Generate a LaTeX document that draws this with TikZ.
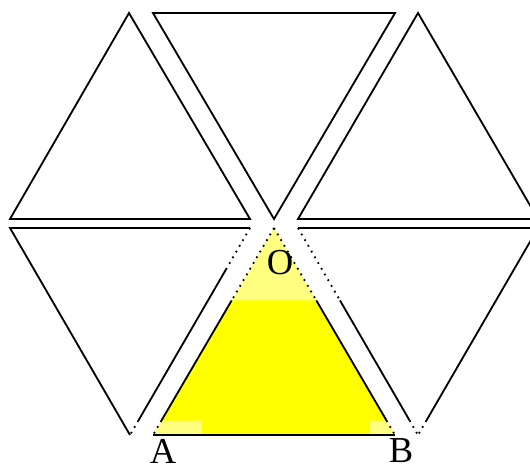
\documentclass[tikz,border=0pt]{standalone}
\usepackage{fontspec}
\setmainfont{Liberation Serif}
\usetikzlibrary{calc}
\definecolor{pureyellow}{RGB}{255,255,0}
\begin{document}
\begin{tikzpicture}[x=0.025cm, y=-0.025cm,
    tri/.style={draw=black, line width=1.3pt, line join=miter},
    solidseg/.style={draw=black, line width=1.3pt},
    faded/.style={draw=black, line width=1.3pt, dash pattern=on 1.2pt off 3.5pt},
    letter/.style={font=\fontsize{26}{29}\selectfont, inner sep=0pt}
]
    \useasboundingbox (0,0) rectangle (530,466);

    % upper row of the hexagon
    \draw[tri] (129,13) -- (250,219) -- (10,219) -- cycle;
    \draw[tri] (153,13) -- (395,13) -- (274,219) -- cycle;
    \draw[tri] (418,13) -- (538,219) -- (298,219) -- cycle;

    % lower row
    \coordinate (BL1) at (10,228);
    \coordinate (BL2) at (250,228);
    \coordinate (BL3) at (130,435);
    \coordinate (O) at (274,228);
    \coordinate (A) at (153,435);
    \coordinate (B) at (395,435);
    \coordinate (BR1) at (298,228);
    \coordinate (BR2) at (538,228);
    \coordinate (BR3) at (418,435);

    % yellow triangle OAB
    \fill[pureyellow!50] (O) -- (A) -- (B) -- cycle;
    \fill[pureyellow] ($(O)!0.35!(A)$) -- ($(O)!0.35!(B)$) -- ($(O)!0.93!(B)$) -- (370,420.5)
        -- (370,435) -- (202,435) -- (202,420.5) -- ($(O)!0.93!(A)$) -- cycle;
    \draw[faded] (O) -- ($(O)!0.35!(A)$);
    \draw[solidseg] ($(O)!0.35!(A)$) -- ($(O)!0.93!(A)$);
    \draw[faded] ($(O)!0.93!(A)$) -- (A);
    \draw[faded] (O) -- ($(O)!0.35!(B)$);
    \draw[solidseg] ($(O)!0.35!(B)$) -- ($(O)!0.93!(B)$);
    \draw[faded] ($(O)!0.93!(B)$) -- (B);
    \draw[solidseg] (A) -- (B);

    % left lower triangle
    \draw[solidseg] (BL3) -- (BL1) -- (BL2);
    \draw[faded] (BL2) -- ($(BL2)!0.2!(BL3)$);
    \draw[solidseg] ($(BL2)!0.2!(BL3)$) -- ($(BL2)!0.93!(BL3)$);
    \draw[faded] ($(BL2)!0.93!(BL3)$) -- (BL3);

    % right lower triangle
    \draw[solidseg] (BR1) -- (BR2) -- ($(BR2)!0.93!(BR3)$);
    \draw[faded] ($(BR2)!0.93!(BR3)$) -- (BR3);
    \draw[faded] (BR1) -- ($(BR1)!0.35!(BR3)$);
    \draw[solidseg] ($(BR1)!0.35!(BR3)$) -- ($(BR1)!0.93!(BR3)$);
    \draw[faded] ($(BR1)!0.93!(BR3)$) -- (BR3);

    % labels
    \node[letter] (lblO) at (280,263) {O};
    \node[letter] (lblA) at (163,451) {A};
    \node[letter] (lblB) at (401,451) {B};
\end{tikzpicture}
\end{document}
